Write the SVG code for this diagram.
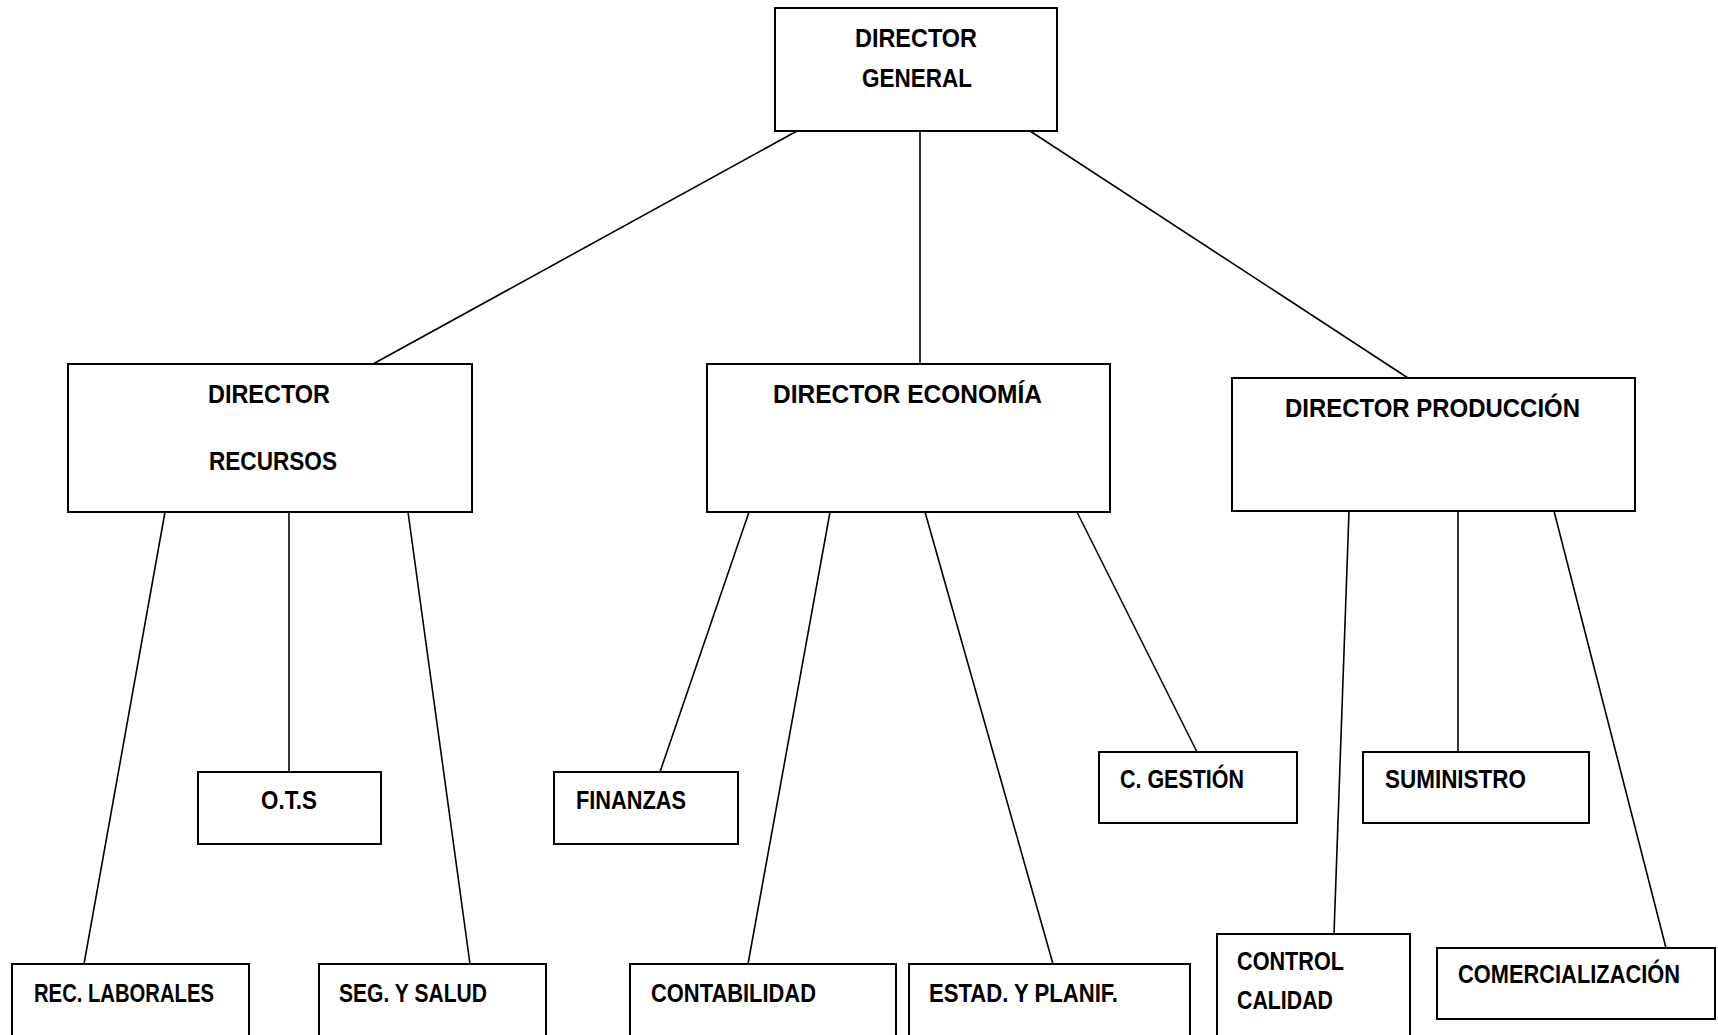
<svg xmlns="http://www.w3.org/2000/svg" width="1718" height="1035" viewBox="0 0 1718 1035">
<style>
.box{fill:#fff;stroke:#000;stroke-width:2}
.ln{stroke:#000;stroke-width:1.6;fill:none}
.t{font-family:"Liberation Sans",Arial,sans-serif;font-weight:bold;font-size:25px;fill:#000}
</style>
<rect width="1718" height="1035" fill="#fff"/>
<g id="connectors">
<line class="ln" x1="797" y1="131" x2="373" y2="364"/>
<line class="ln" x1="920" y1="131" x2="920" y2="364"/>
<line class="ln" x1="1030" y1="131" x2="1408" y2="378"/>
<line class="ln" x1="165" y1="512" x2="84" y2="964"/>
<line class="ln" x1="289" y1="512" x2="289" y2="772"/>
<line class="ln" x1="408" y1="512" x2="470" y2="964"/>
<line class="ln" x1="749" y1="512" x2="660" y2="772"/>
<line class="ln" x1="830" y1="512" x2="748" y2="964"/>
<line class="ln" x1="925" y1="512" x2="1053" y2="964"/>
<line class="ln" x1="1077" y1="512" x2="1197" y2="752"/>
<line class="ln" x1="1349" y1="511" x2="1334" y2="934"/>
<line class="ln" x1="1458" y1="511" x2="1458" y2="752"/>
<line class="ln" x1="1554" y1="511" x2="1666" y2="948"/>
</g>
<g id="director-general">
<rect class="box" x="775" y="8" width="282" height="123"/>
<text class="t" x="855" y="47" textLength="122" lengthAdjust="spacingAndGlyphs">DIRECTOR</text>
<text class="t" x="862" y="87" textLength="110" lengthAdjust="spacingAndGlyphs">GENERAL</text>
</g>
<g id="director-recursos">
<rect class="box" x="68" y="364" width="404" height="148"/>
<text class="t" x="208" y="403" textLength="122" lengthAdjust="spacingAndGlyphs">DIRECTOR</text>
<text class="t" x="209" y="470" textLength="128" lengthAdjust="spacingAndGlyphs">RECURSOS</text>
</g>
<g id="director-economia">
<rect class="box" x="707" y="364" width="403" height="148"/>
<text class="t" x="773" y="403" textLength="269" lengthAdjust="spacingAndGlyphs">DIRECTOR ECONOMÍA</text>
</g>
<g id="director-produccion">
<rect class="box" x="1232" y="378" width="403" height="133"/>
<text class="t" x="1285" y="417" textLength="295" lengthAdjust="spacingAndGlyphs">DIRECTOR PRODUCCIÓN</text>
</g>
<g id="ots">
<rect class="box" x="198" y="772" width="183" height="72"/>
<text class="t" x="261" y="809" textLength="56" lengthAdjust="spacingAndGlyphs">O.T.S</text>
</g>
<g id="finanzas">
<rect class="box" x="554" y="772" width="184" height="72"/>
<text class="t" x="576" y="809" textLength="110" lengthAdjust="spacingAndGlyphs">FINANZAS</text>
</g>
<g id="c-gestion">
<rect class="box" x="1099" y="752" width="198" height="71"/>
<text class="t" x="1120" y="788" textLength="124" lengthAdjust="spacingAndGlyphs">C. GESTIÓN</text>
</g>
<g id="suministro">
<rect class="box" x="1363" y="752" width="226" height="71"/>
<text class="t" x="1385" y="788" textLength="141" lengthAdjust="spacingAndGlyphs">SUMINISTRO</text>
</g>
<g id="rec-laborales">
<rect class="box" x="12" y="964" width="237" height="80"/>
<text class="t" x="34" y="1002" textLength="180" lengthAdjust="spacingAndGlyphs">REC. LABORALES</text>
</g>
<g id="seg-y-salud">
<rect class="box" x="319" y="964" width="227" height="80"/>
<text class="t" x="339" y="1002" textLength="148" lengthAdjust="spacingAndGlyphs">SEG. Y SALUD</text>
</g>
<g id="contabilidad">
<rect class="box" x="630" y="964" width="266" height="80"/>
<text class="t" x="651" y="1002" textLength="165" lengthAdjust="spacingAndGlyphs">CONTABILIDAD</text>
</g>
<g id="estad-y-planif">
<rect class="box" x="909" y="964" width="281" height="80"/>
<text class="t" x="929" y="1002" textLength="189" lengthAdjust="spacingAndGlyphs">ESTAD. Y PLANIF.</text>
</g>
<g id="control-calidad">
<rect class="box" x="1217" y="934" width="193" height="112"/>
<text class="t" x="1237" y="970" textLength="107" lengthAdjust="spacingAndGlyphs">CONTROL</text>
<text class="t" x="1237" y="1009" textLength="96" lengthAdjust="spacingAndGlyphs">CALIDAD</text>
</g>
<g id="comercializacion">
<rect class="box" x="1437" y="948" width="278" height="71"/>
<text class="t" x="1458" y="983" textLength="222" lengthAdjust="spacingAndGlyphs">COMERCIALIZACIÓN</text>
</g>
</svg>
